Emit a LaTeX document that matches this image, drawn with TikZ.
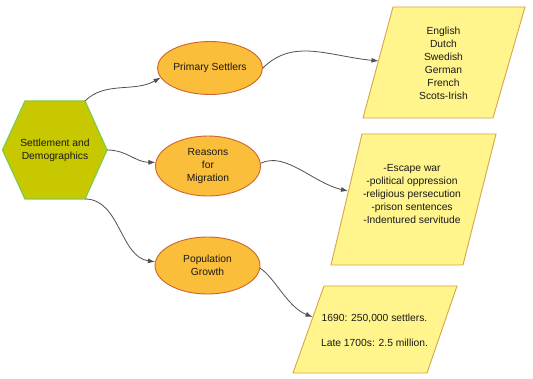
\documentclass[tikz,border=0pt]{standalone}
\usepackage{fontspec}
\setmainfont{Liberation Sans}
\usetikzlibrary{shapes.geometric,arrows.meta}
\definecolor{hexfill}{RGB}{200,200,0}
\definecolor{hexline}{RGB}{130,205,70}
\definecolor{ellfill}{RGB}{251,190,58}
\definecolor{ellline}{RGB}{205,100,45}
\definecolor{parfill}{RGB}{255,245,140}
\definecolor{parline}{RGB}{215,165,70}
\definecolor{conn}{RGB}{80,80,80}
\tikzset{
  txt/.style={font=\fontsize{10.3}{13}\selectfont, align=center, inner sep=0pt, text=black!90},
  ellbox/.style={ellipse, draw=ellline, fill=ellfill, line width=0.9pt, minimum width=105pt, inner sep=0pt, txt},
  hexbox/.style={draw=hexline, fill=hexfill, line width=1.3pt, line join=miter},
  parbox/.style={draw=parline, fill=parfill, line width=0.9pt},
  link/.style={draw=conn, line width=0.8pt, -{Latex[length=7pt,width=5pt]}},
}
\begin{document}
\begin{tikzpicture}[x=1pt,y=-1pt]
\useasboundingbox (0,0) rectangle (533,379);
\fill[white] (0,0) rectangle (533,379);
% hexagon
\coordinate (h1) at (25,101);
\coordinate (h2) at (85,101);
\coordinate (h3) at (107,150);
\coordinate (h4) at (85,199);
\coordinate (h5) at (25,199);
\coordinate (h6) at (2.5,150);
\path[hexbox] (h1) -- (h2) -- (h3) -- (h4) -- (h5) -- (h6) -- cycle;
\node[txt] (hex) at (55,150.5) {Settlement and\\Demographics};
% ellipses
\node[ellbox, minimum height=53pt] (e1) at (210,68) {Primary Settlers};
\node[ellbox, minimum height=60pt] (e2) at (208,166) {Reasons\\for\\Migration};
\node[ellbox, minimum height=57pt] (e3) at (207.5,265.5) {Population\\Growth};
% parallelograms
\path[parbox] (393,7) -- (525,7) -- (493,118) -- (363,118) -- cycle;
\node[txt] (p1) at (443.5,63) {English\\Dutch\\Swedish\\German\\French\\Scots-Irish};
\coordinate (p1in) at (378.5,61);
\path[parbox] (362,134) -- (496,134) -- (463,265) -- (331,265) -- cycle;
\node[txt] (p2) at (412,194) {-Escape war\\-political oppression\\-religious persecution\\-prison sentences\\-Indentured servitude};
\coordinate (p2in) at (348,191);
\path[parbox] (324,286) -- (457,286) -- (427,373) -- (293,373) -- cycle;
\node[txt, font=\fontsize{10.3}{25}\selectfont] (p3) at (374.5,330.5) {1690: 250,000 settlers.\\Late 1700s: 2.5 million.};
\coordinate (p3in) at (312.5,317);
% connectors
\draw[link] (h2) .. controls +(20,-20) and +(-26,15) .. (e1.191);
\draw[link] (h3) .. controls +(20,0) and +(-20,0) .. (e2.176);
\draw[link] (h4) .. controls +(35,0) and +(-35,-5) .. (e3.176);
\draw[link] (e1.0) .. controls +(30,-30) and +(-50,-5) .. (p1in);
\draw[link] (e2.3) .. controls +(25,-12) and +(-35,-8) .. (p2in);
\draw[link] (e3.-3) .. controls +(15,10) and +(-25,-10) .. (p3in);
\end{tikzpicture}
\end{document}
